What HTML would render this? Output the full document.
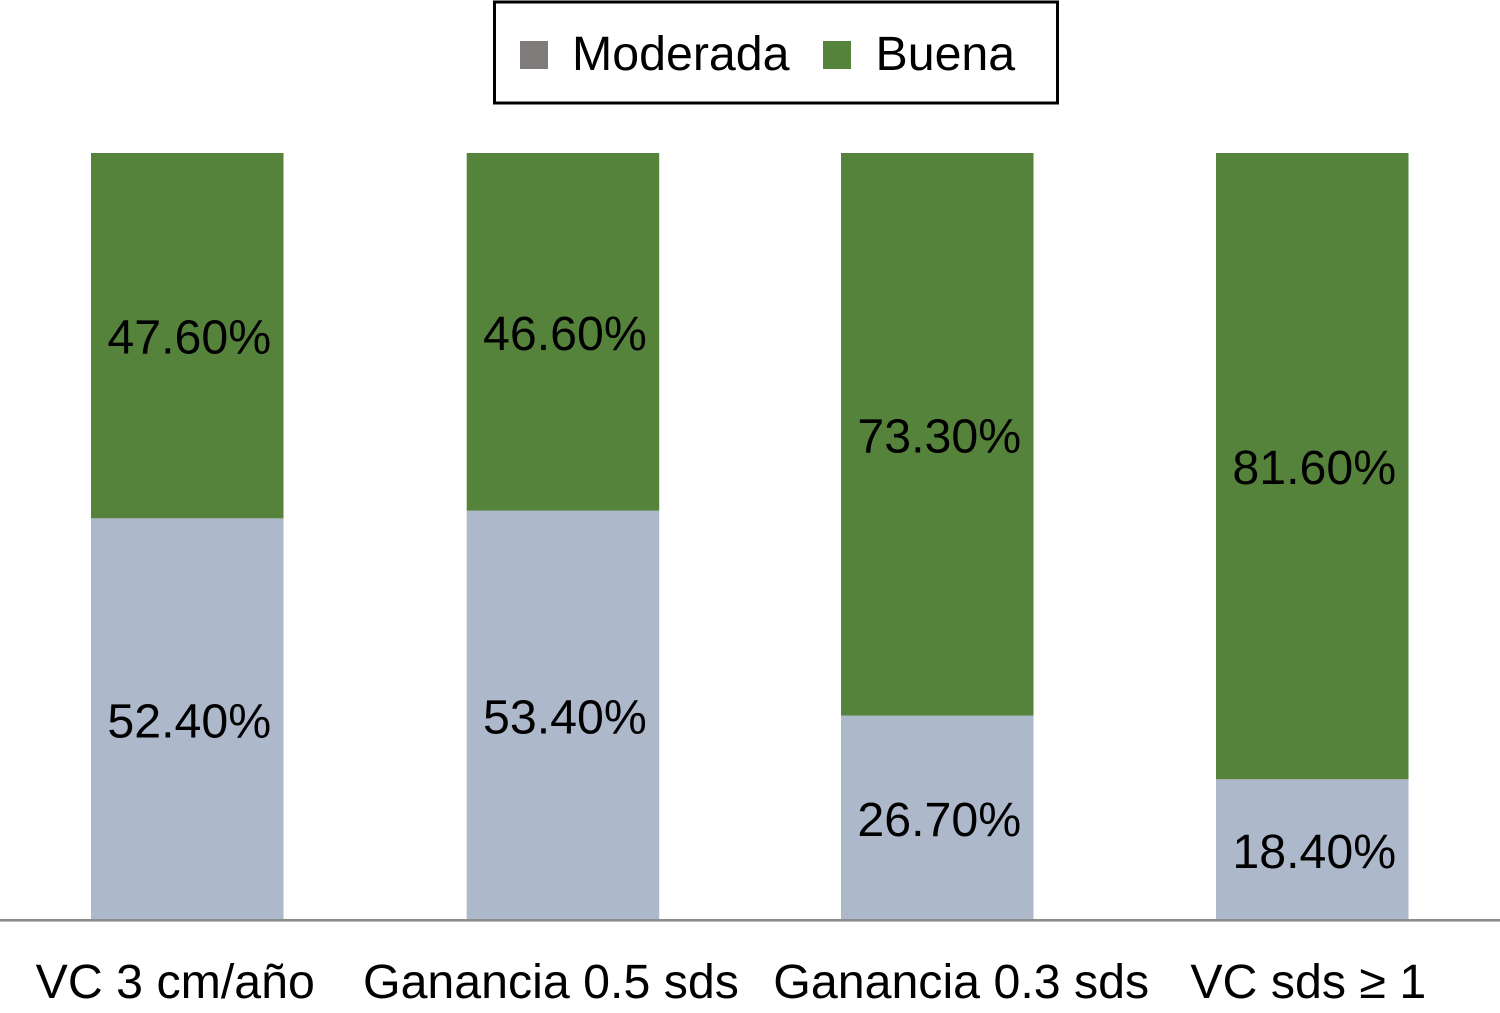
<!DOCTYPE html>
<html lang="es">
<head>
<meta charset="utf-8">
<title>Moderada y Buena</title>
<style>
  html, body { margin: 0; padding: 0; background: #ffffff; }
  svg { display: block; }
  text { font-family: "Liberation Sans", sans-serif; font-size: 48.3px; fill: #000000; }
</style>
</head>
<body>
<svg id="chart" xmlns="http://www.w3.org/2000/svg" width="1500" height="1013" viewBox="0 0 1500 1013">
  <rect x="0" y="0" width="1500" height="1013" fill="#ffffff"/>
  <g id="bars"></g>
  <g id="value-labels"></g>
  <rect x="0" y="919" width="1500" height="2.6" fill="#8c8c8c"/>
  <g id="category-labels"></g>
  <g>
    <rect x="494.5" y="2" width="563" height="101" fill="#ffffff" stroke="#000000" stroke-width="3"/>
    <rect x="520" y="41" width="28" height="28" fill="#7f7b7b"/>
    <text x="572" y="70">Moderada</text>
    <rect x="823" y="41" width="28" height="28" fill="#56833c"/>
    <text x="875.5" y="70">Buena</text>
  </g>
</svg>
<script>
const categories = ["VC 3 cm/año", "Ganancia 0.5 sds", "Ganancia 0.3 sds", "VC sds ≥ 1"];
const moderadaValues = [52.4, 53.4, 26.7, 18.4];
const buenaValues = [47.6, 46.6, 73.3, 81.6];

const SVG_NS = "http://www.w3.org/2000/svg";
const plotLeft = 91;
const bandStep = 375;
const barWidth = 192.5;
const plotBottom = 920.5;
const plotTop = 153;
const valueMax = 100;
const valueLabelShift = 2;
const barShift = { 0: 0, 1: 0.7, 2: 0, 3: 0 };
const categoryLabelShift = { 0: -12, 1: -12, 2: 24, 3: -4 };

function xScale(index) {
  return plotLeft + index * bandStep + barShift[index];
}
function yScale(value) {
  return plotBottom - (value / valueMax) * (plotBottom - plotTop);
}
function formatPercent(value) {
  return value.toFixed(2) + "%";
}

const barsGroup = document.getElementById("bars");
const valueGroup = document.getElementById("value-labels");
const categoryGroup = document.getElementById("category-labels");

function addSegment(index, start, value, color, seriesName) {
  const top = yScale(start + value);
  const bottom = yScale(start);
  const rect = document.createElementNS(SVG_NS, "rect");
  rect.setAttribute("x", xScale(index));
  rect.setAttribute("y", top);
  rect.setAttribute("width", barWidth);
  rect.setAttribute("height", bottom - top);
  rect.setAttribute("fill", color);
  
  
  barsGroup.appendChild(rect);

  const label = document.createElementNS(SVG_NS, "text");
  label.setAttribute("x", xScale(index) + barWidth / 2 + valueLabelShift);
  label.setAttribute("y", (top + bottom) / 2 + 18);
  label.setAttribute("text-anchor", "middle");
  label.textContent = formatPercent(value);
  
  
  valueGroup.appendChild(label);
}

categories.forEach(function (category, index) {
  addSegment(index, 0, moderadaValues[index], "#adb8cb", "moderada");
  addSegment(index, moderadaValues[index], buenaValues[index], "#56833c", "buena");

  const tick = document.createElementNS(SVG_NS, "text");
  tick.setAttribute("x", xScale(index) + barWidth / 2 + categoryLabelShift[index]);
  tick.setAttribute("y", 998);
  tick.setAttribute("text-anchor", "middle");
  tick.textContent = category;
  
  
  categoryGroup.appendChild(tick);
});
</script>
</body>
</html>
